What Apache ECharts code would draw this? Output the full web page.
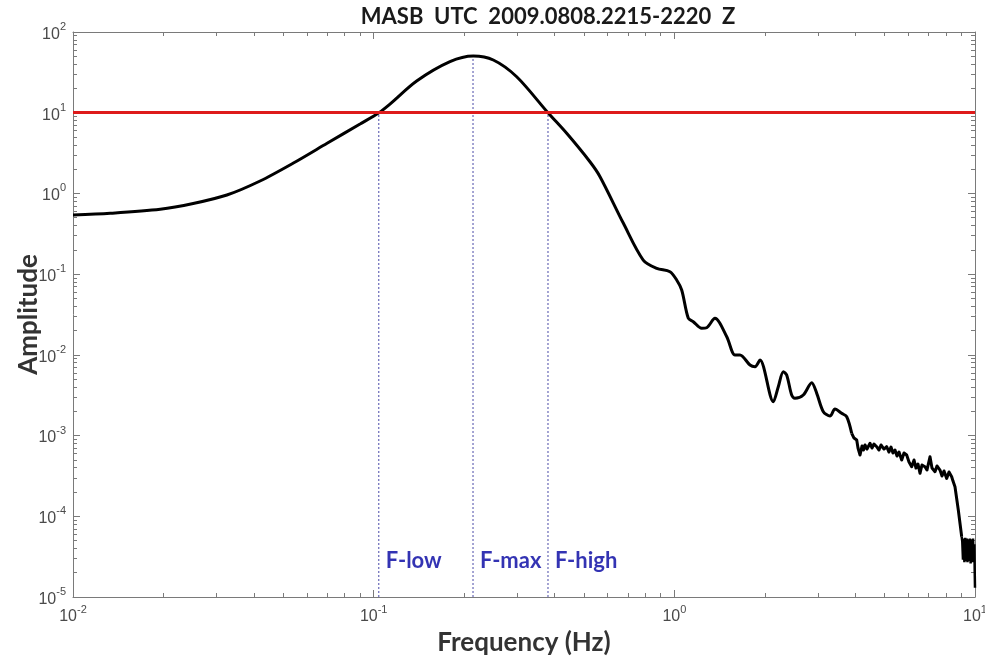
<!DOCTYPE html>
<html><head><meta charset="utf-8">
<script src="https://cdn.jsdelivr.net/npm/echarts@6/dist/echarts.min.js"></script>
<style>html,body{margin:0;padding:0;background:#fff}#c{width:985px;height:661px}</style>
</head><body><div id="c"></div>
<script>
const titleText = 'MASB  UTC  2009.0808.2215-2220  Z';
const xName = 'Frequency (Hz)';
const yName = 'Amplitude';
const xMin = 0.01, xMax = 10;
const yMin = 1e-5, yMax = 100;
const xTickValues = [0.01, 0.1, 1, 10];
const xTickExp = ['-2', '-1', '0', '1'];
const yTickValues = [1e-5, 1e-4, 1e-3, 1e-2, 1e-1, 1, 10, 100];
const yTickExp = ['-5', '-4', '-3', '-2', '-1', '0', '1', '2'];

// smooth part of the spectrum
const freq = [0.0100,0.0133,0.0195,0.0251,0.0325,0.0419,0.0539,0.0700,0.0901,0.1041,0.1133,0.1390,0.1794,0.2145,0.2500,0.2990,0.3800,0.4385,0.5240,0.5660,0.6770,0.7880,0.8740,0.9670,1.018,1.058,1.113,1.156,1.233,1.281,1.365,1.494,1.591,1.653,1.785,1.855,1.927,2.134,2.217,2.304,2.364,2.456,2.519,2.685,2.864,2.976,3.130,3.294,3.422,3.602,3.744,3.890];
const amp = [0.540,0.567,0.636,0.750,0.956,1.426,2.362,4.18,7.25,10.0,12.8,24.7,42.9,50.4,45.0,27.9,10.0,5.56,2.47,1.612,0.4264,0.1496,0.1181,0.1072,0.0846,0.0636,0.02836,0.02574,0.02132,0.02169,0.02836,0.01678,0.00995,0.00995,0.00748,0.00713,0.00863,0.002626,0.004031,0.006182,0.005626,0.003181,0.002894,0.003181,0.004516,0.003338,0.001975,0.001747,0.002133,0.001886,0.001712,0.001066];
// noisy high-frequency part
const noisyFreq = [3.890,3.959,4.042,4.082,4.146,4.209,4.257,4.307,4.373,4.476,4.543,4.614,4.710,4.794,4.868,4.981,5.084,5.175,5.255,5.336,5.418,5.503,5.588,5.704,5.806,5.926,6.033,6.157,6.270,6.364,6.463,6.562,6.662,6.818,6.922,7.085,7.194,7.362,7.474,7.648,7.767,7.887,8.050,8.195,8.364,8.450,8.579,8.800,9.032];
const noisyAmp = [1.066e-3,9.32e-4,8.81e-4,7.01e-4,5.74e-4,7.42e-4,6.62e-4,7.64e-4,6.81e-4,8.02e-4,7.01e-4,7.86e-4,7.28e-4,6.62e-4,7.64e-4,6.81e-4,7.28e-4,6.25e-4,7.21e-4,6.08e-4,6.62e-4,5.58e-4,6.25e-4,4.98e-4,6.08e-4,5.74e-4,4.70e-4,4.11e-4,4.98e-4,3.96e-4,4.44e-4,3.41e-4,4.32e-4,4.11e-4,3.74e-4,5.47e-4,3.96e-4,3.57e-4,4.20e-4,3.74e-4,3.15e-4,3.64e-4,2.95e-4,3.54e-4,3.09e-4,2.73e-4,2.32e-4,1.196e-4,5.58e-5];
const tailFreq = [9.032,9.07,9.12,9.17,9.22,9.28,9.33,9.39,9.44,9.50,9.56,9.61,9.67,9.73,9.79,9.85,9.91,9.95,9.98,10.0];
const tailAmp = [5.58e-5,4.9e-5,2.9e-5,5.3e-5,2.7e-5,5.4e-5,2.8e-5,5.3e-5,2.7e-5,5.2e-5,2.8e-5,5.3e-5,2.6e-5,5.2e-5,2.7e-5,5.3e-5,2.7e-5,4.5e-5,2.0e-5,1.3e-5];

const thresholdAmp = 10;
const markerNames = ['F-low', 'F-max', 'F-high'];
const markerFreq = [0.104, 0.214, 0.380];
const markerAmp = [10, 50, 10];
const markerLabelAmp = 2.8e-5;

const axisColor = '#7a7a7a';
const labelColor = '#4a4a4a';
const boldFont = 'Lato';

const minorX = [];
for (let e = -2; e < 1; e++) for (let m = 2; m <= 9; m++) minorX.push(e + Math.log10(m));
const minorY = [];
for (let e = -5; e < 2; e++) for (let m = 2; m <= 9; m++) minorY.push(e + Math.log10(m));

function expOf(v, vals, exps) {
  let best = 0, bd = Infinity;
  vals.forEach((t, i) => { const d = Math.abs(Math.log10(v) - Math.log10(t)); if (d < bd) { bd = d; best = i; } });
  return exps[best];
}
const rich = {
  b: { fontFamily: 'Liberation Sans', fontSize: 16, color: labelColor, lineHeight: 21, verticalAlign: 'bottom' },
  s: { fontFamily: 'Liberation Sans', fontSize: 11, color: labelColor, lineHeight: 12, verticalAlign: 'top' }
};

function logAxis(pos, min, max, showLabel, vals, exps, extra) {
  return Object.assign({
    type: 'log', logBase: 10, min: min, max: max, interval: 1, position: pos,
    axisLine: { show: true, onZero: false, lineStyle: { color: axisColor, width: 1 } },
    axisTick: { show: true, inside: true, length: 7, lineStyle: { color: axisColor, width: 1 } },
    axisLabel: { show: showLabel, margin: 7, rich: rich,
      formatter: v => '{b|10}{s|' + expOf(v, vals, exps) + '}' },
    splitLine: { show: false }, minorTick: { show: false }
  }, extra || {});
}
function minorAxis(pos, min, max, vals) {
  return {
    type: 'value', min: min, max: max, position: pos,
    axisLine: { show: false, onZero: false },
    axisTick: { show: true, inside: true, length: 4, customValues: vals, lineStyle: { color: axisColor, width: 1 } },
    axisLabel: { show: false }, splitLine: { show: false }
  };
}

const nameStyle = { fontFamily: boldFont, fontWeight: 'bold', fontSize: 26, color: '#333' };

const chart = echarts.init(document.getElementById('c'), null, { renderer: 'canvas' });
const series = [
  {
    type: 'line', xAxisIndex: 0, yAxisIndex: 0, showSymbol: false, smooth: 0.3,
    data: freq.map((f, i) => [f, amp[i]]),
    lineStyle: { color: '#000', width: 3 }, z: 3,
    markLine: { silent: true, symbol: 'none', label: { show: false },
      lineStyle: { color: '#de1b1b', width: 3, type: 'solid' },
      data: [{ yAxis: thresholdAmp }], z: 5 }
  },
  {
    type: 'line', xAxisIndex: 0, yAxisIndex: 0, showSymbol: false, smooth: false,
    data: noisyFreq.map((f, i) => [f, noisyAmp[i]]),
    lineStyle: { color: '#000', width: 3, join: 'round' }, z: 3
  },
  {
    type: 'line', xAxisIndex: 0, yAxisIndex: 0, showSymbol: false, smooth: false,
    data: tailFreq.map((f, i) => [f, tailAmp[i]]),
    lineStyle: { color: '#000', width: 2.5 }, z: 3
  }
];
markerNames.forEach((n, i) => {
  series.push({
    type: 'line', xAxisIndex: 0, yAxisIndex: 0, showSymbol: false,
    data: [[markerFreq[i], yMin], [markerFreq[i], markerAmp[i]]],
    lineStyle: { color: '#4a4aa8', width: 1, type: [2, 2] }, z: 2
  });
});
series.push({
  type: 'scatter', xAxisIndex: 0, yAxisIndex: 0, symbolSize: 0,
  data: markerNames.map((n, i) => ({ name: n, value: [markerFreq[i], markerLabelAmp] })),
  label: { show: true, position: 'right', distance: 7, formatter: p => p.name,
    fontFamily: boldFont, fontWeight: 'bold', fontSize: 22, color: '#0000a0' },
  z: 6
});

chart.setOption({
  animation: false,
  backgroundColor: '#fff',
  title: { text: titleText, left: 543, top: 1, textAlign: 'center',
    textStyle: { fontFamily: boldFont, fontWeight: 'bold', fontSize: 22, color: '#1a1a1a' } },
  grid: { left: 73, right: 10, top: 32, bottom: 64, containLabel: false, outerBoundsMode: 'none' },
  xAxis: [
    logAxis('bottom', xMin, xMax, true, xTickValues, xTickExp,
      { name: xName, nameLocation: 'middle', nameGap: 33, nameMoveOverlap: false, nameTextStyle: nameStyle }),
    logAxis('top', xMin, xMax, false, xTickValues, xTickExp),
    minorAxis('bottom', -2, 1, minorX),
    minorAxis('top', -2, 1, minorX)
  ],
  yAxis: [
    logAxis('left', yMin, yMax, true, yTickValues, yTickExp,
      { name: yName, nameLocation: 'middle', nameGap: 31, nameMoveOverlap: false, nameTextStyle: nameStyle }),
    logAxis('right', yMin, yMax, false, yTickValues, yTickExp),
    minorAxis('left', -5, 2, minorY),
    minorAxis('right', -5, 2, minorY)
  ],
  series: series
});
</script>
</body></html>
